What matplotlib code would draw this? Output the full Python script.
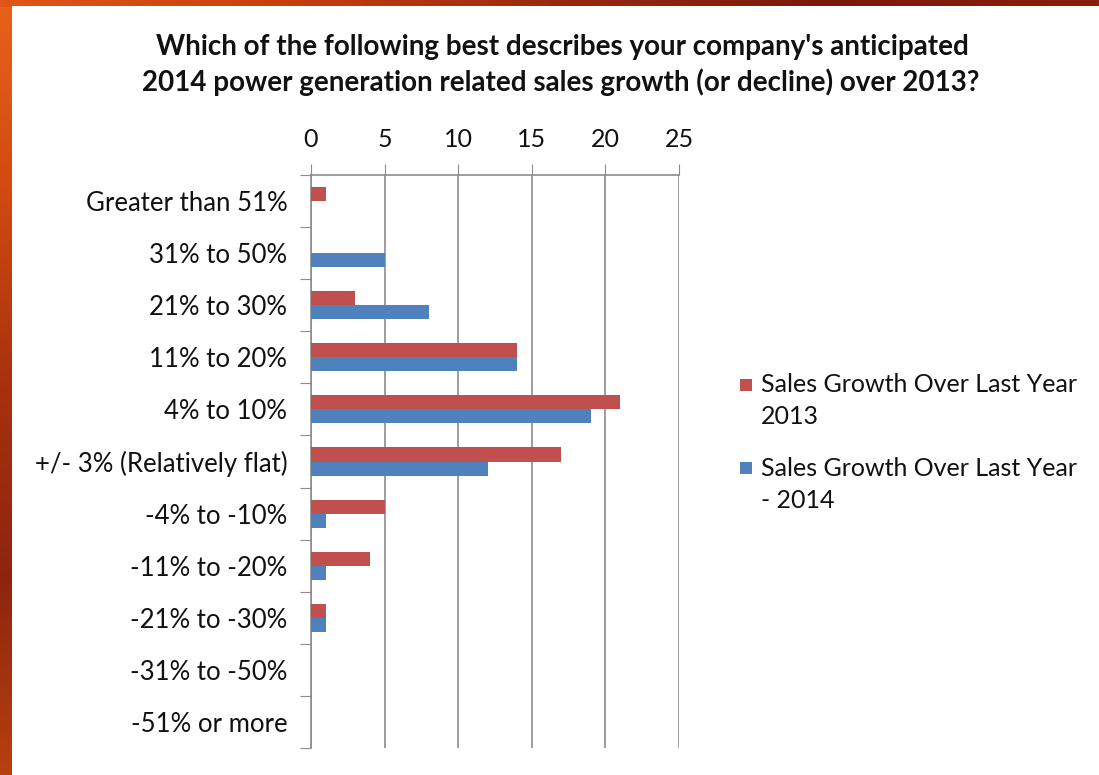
import numpy as np
import matplotlib
matplotlib.use("Agg")
import matplotlib.pyplot as plt
from matplotlib.patches import Rectangle
from matplotlib.colors import LinearSegmentedColormap

plt.rcParams['font.family'] = ['Lato', 'DejaVu Sans']

categories = ["Greater than 51%", "31% to 50%", "21% to 30%", "11% to 20%",
              "4% to 10%", "+/- 3% (Relatively flat)", "-4% to -10%",
              "-11% to -20%", "-21% to -30%", "-31% to -50%", "-51% or more"]
sales_2013 = [1, 0, 3, 14, 21, 17, 5, 4, 1, 0, 0]
sales_2014 = [0, 5, 8, 14, 19, 12, 1, 1, 1, 0, 0]
series_labels = ["Sales Growth Over Last Year\n2013",
                 "Sales Growth Over Last Year\n- 2014"]
x_ticks = [0, 5, 10, 15, 20, 25]

RED = "#C0504D"
BLUE = "#4F81BD"
GRID = "#8C8C8C"
INK = "#111111"

W, H = 1099, 775
fig = plt.figure(figsize=(W / 100, H / 100), dpi=100)

# slide backdrop: warm strips around a white panel
bg = fig.add_axes([0, 0, 1, 1], zorder=-10)
bg.set_axis_off()
bg.set_xlim(0, W)
bg.set_ylim(H, 0)
vgrad = np.linspace(0, 1, 256).reshape(-1, 1)
left_cmap = LinearSegmentedColormap.from_list(
    "left", ["#E8621A", "#D04A12", "#A8300E", "#8E2410", "#B8400F"])
bg.imshow(vgrad, aspect="auto", cmap=left_cmap, extent=[0, 14, H, 0])
hgrad = np.linspace(0, 1, 256).reshape(1, -1)
top_cmap = LinearSegmentedColormap.from_list(
    "top", ["#E0561A", "#C8400F", "#9A2A0E", "#7A1A0C", "#8A1E0C"])
bg.imshow(hgrad, aspect="auto", cmap=top_cmap, extent=[0, W, 7, 0])
bg.add_patch(Rectangle((12, 6), W - 12, H - 6, facecolor="white", edgecolor="none"))

ax = fig.add_axes([311 / W, 1 - 748 / H, (679 - 311) / W, (748 - 175) / H])
n = len(categories)
y = np.arange(n)
h = 0.27
ax.barh(y - h / 2, sales_2013, height=h, color=RED, label=series_labels[0], zorder=3)
ax.barh(y + h / 2, sales_2014, height=h, color=BLUE, label=series_labels[1], zorder=3)

ax.set_xlim(0, 25)
ax.set_ylim(n - 0.5, -0.5)
ax.set_xticks(x_ticks)
ax.xaxis.tick_top()
ax.tick_params(axis="x", direction="out", length=8, color=GRID, labelsize=18,
               pad=9, labelcolor=INK)
ax.grid(axis="x", color=GRID, linewidth=1.2, zorder=0)

# category labels centred in each band, tick marks on band edges
ax.set_yticks(np.arange(n + 1) - 0.5)
ax.set_yticklabels([])
ax.set_yticks(y, minor=True)
ax.set_yticklabels(categories, minor=True)
ax.tick_params(axis="y", which="major", direction="out", length=8, color=GRID)
ax.tick_params(axis="y", which="minor", length=0, labelsize=18.5, pad=17,
               labelcolor=INK)

for side in ["right", "bottom"]:
    ax.spines[side].set_visible(False)
for side in ["left", "top"]:
    ax.spines[side].set_color(GRID)
    ax.spines[side].set_linewidth(1.2)
ax.set_facecolor("none")

fig.text(562 / W, 1 - 47 / H,
         "Which of the following best describes your company's anticipated",
         ha="center", va="center", fontsize=20, fontweight="bold", color=INK)
fig.text(561 / W, 1 - 82 / H,
         "2014 power generation related sales growth (or decline) over 2013?",
         ha="center", va="center", fontsize=20, fontweight="bold", color=INK)

# legend: square swatch beside the first line of each two-line label
legend_tops = [385, 468]
for label, color, yc in zip(series_labels, [RED, BLUE], legend_tops):
    bg.add_patch(Rectangle((740, yc - 6), 12, 12, facecolor=color, edgecolor="none"))
    first, second = label.split("\n")
    bg.text(761, yc, first, ha="left", va="center", fontsize=18, color=INK)
    bg.text(761, yc + 32, second, ha="left", va="center", fontsize=18, color=INK)

fig.savefig("out.png", dpi=100)
